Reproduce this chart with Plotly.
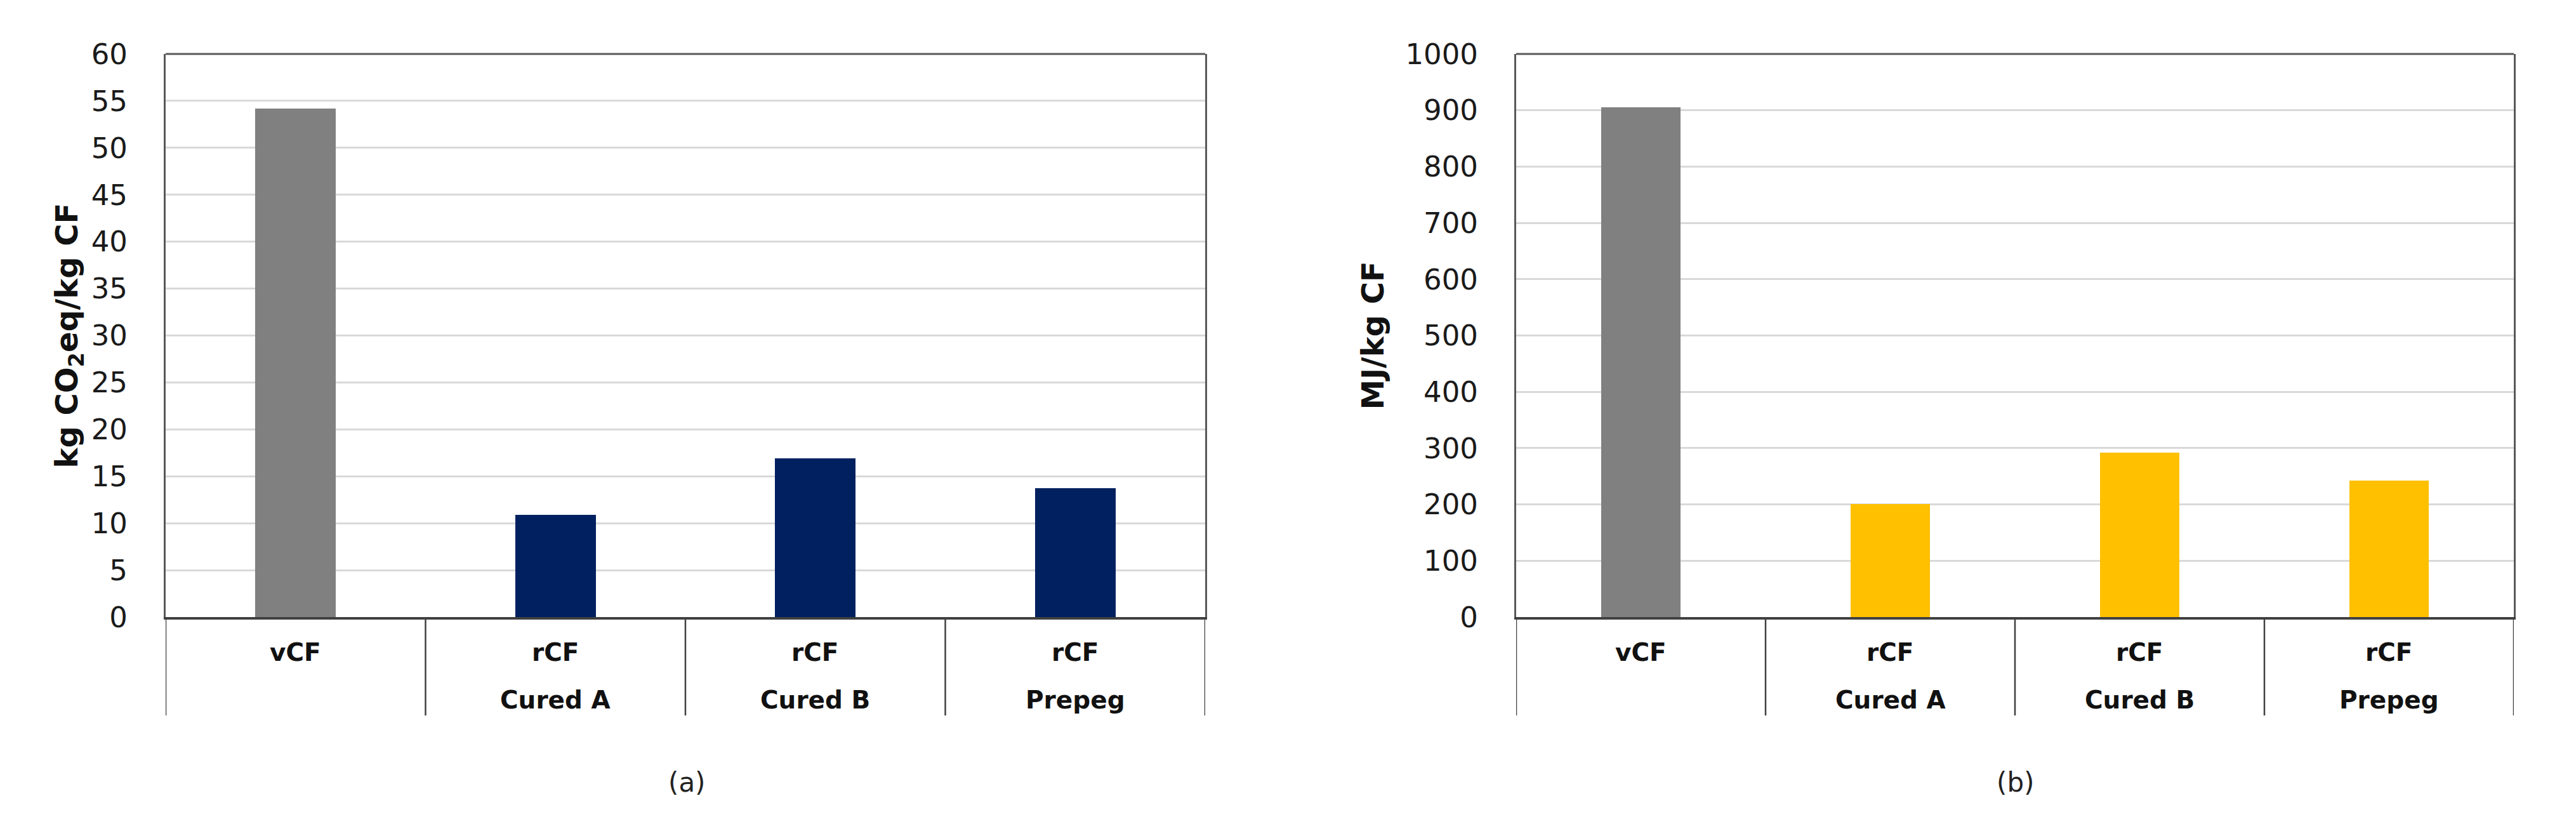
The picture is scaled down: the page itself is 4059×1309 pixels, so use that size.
import plotly.graph_objects as go

# ---- data ----
row1_labels = ["vCF", "rCF", "rCF", "rCF"]
row2_labels = ["", "Cured A", "Cured B", "Prepeg"]
categories = ["vCF", "rCF Cured A", "rCF Cured B", "rCF Prepeg"]
co2_values = [54.2, 10.9, 16.9, 13.7]
energy_values = [905, 201, 292, 242]
co2_colors = ["#808080", "#002060", "#002060", "#002060"]
energy_colors = ["#808080", "#FFC000", "#FFC000", "#FFC000"]
co2_ticks = list(range(0, 61, 5))
energy_ticks = list(range(0, 1001, 100))

W, H = 4059, 1309
FONT = "DejaVu Sans"

fig = go.Figure()
fig.add_trace(go.Bar(x=categories, y=co2_values, marker=dict(color=co2_colors, line=dict(width=0)),
                     width=0.31, xaxis="x", yaxis="y", showlegend=False))
fig.add_trace(go.Bar(x=categories, y=energy_values, marker=dict(color=energy_colors, line=dict(width=0)),
                     width=0.32, xaxis="x2", yaxis="y2", showlegend=False))

# plot domains (paper)
left_dom = [261 / W, 1899 / W]
right_dom = [2389 / W, 3961 / W]
y_dom = [1 - 972 / H, 1 - 85 / H]

xcommon = dict(type="category", categoryorder="array", categoryarray=categories,
               range=[-0.5, 3.5], showticklabels=False, ticks="", showgrid=False,
               showline=True, linecolor="#404040", linewidth=4, mirror=False, zeroline=False,
               fixedrange=True, automargin=False)
ycommon = dict(showgrid=True, gridcolor="#D9D9D9", gridwidth=3, showline=True,
               linecolor="#595959", linewidth=3, mirror=True, zeroline=False, ticks="",
               automargin=False, ticklabelstandoff=48,
               tickfont=dict(family=FONT, size=45, color="#1a1a1a"))

fig.update_layout(
    width=W, height=H, margin=dict(l=0, r=0, t=0, b=0, autoexpand=False),
    paper_bgcolor="white", plot_bgcolor="white", bargap=0,
    xaxis=dict(domain=left_dom, anchor="y", **xcommon),
    xaxis2=dict(domain=right_dom, anchor="y2", **xcommon),
    yaxis=dict(domain=y_dom, anchor="x", range=[0, 60], tickvals=co2_ticks, **ycommon),
    yaxis2=dict(domain=y_dom, anchor="x2", range=[0, 1000], tickvals=energy_ticks, **ycommon),
)

# top border lines (plot frame)
for xd in (left_dom, right_dom):
    fig.add_shape(type="line", xref="paper", yref="paper", x0=xd[0], x1=xd[1], y0=y_dom[1], y1=y_dom[1],
                  line=dict(color="#595959", width=3))

annotations = []
shapes = []
row1_y = 1 - 1027 / H
row2_y = 1 - 1102 / H
div_bottom = 1 - 1127 / H
for xa in ("x", "x2"):
    for i, cat in enumerate(categories):
        annotations.append(dict(x=cat, y=row1_y, xref=xa, yref="paper", text=f"<b>{row1_labels[i]}</b>",
                                showarrow=False, yanchor="middle", xanchor="center",
                                font=dict(family=FONT, size=39, color="#111")))
        if row2_labels[i]:
            annotations.append(dict(x=cat, y=row2_y, xref=xa, yref="paper", text=f"<b>{row2_labels[i]}</b>",
                                    showarrow=False, yanchor="middle", xanchor="center",
                                    font=dict(family=FONT, size=39, color="#111")))
    for k in range(len(categories) + 1):
        shapes.append(dict(type="line", xref=xa, yref="paper", x0=k - 0.5, x1=k - 0.5,
                           y0=div_bottom, y1=y_dom[0], line=dict(color="#404040", width=2.5)))

ymid = (y_dom[0] + y_dom[1]) / 2
annotations.append(dict(x=108 / W, y=ymid, xref="paper", yref="paper", textangle=-90,
                        text="<b>kg CO<sub>2</sub>eq/kg CF</b>", showarrow=False,
                        xanchor="center", yanchor="middle", font=dict(family=FONT, size=48, color="#111")))
annotations.append(dict(x=2162 / W, y=ymid, xref="paper", yref="paper", textangle=-90,
                        text="<b>MJ/kg CF</b>", showarrow=False,
                        xanchor="center", yanchor="middle", font=dict(family=FONT, size=48, color="#111")))
annotations.append(dict(x=1082 / W, y=1 - 1232 / H, xref="paper", yref="paper", text="(a)",
                        showarrow=False, xanchor="center", yanchor="middle",
                        font=dict(family=FONT, size=42, color="#222")))
annotations.append(dict(x=3175 / W, y=1 - 1232 / H, xref="paper", yref="paper", text="(b)",
                        showarrow=False, xanchor="center", yanchor="middle",
                        font=dict(family=FONT, size=42, color="#222")))

for s in shapes:
    fig.add_shape(**s)
fig.update_layout(annotations=annotations)

fig.write_html("out.html", config={"displayModeBar": False},
               post_script="document.body.style.margin='0';document.body.style.overflow='hidden';")
